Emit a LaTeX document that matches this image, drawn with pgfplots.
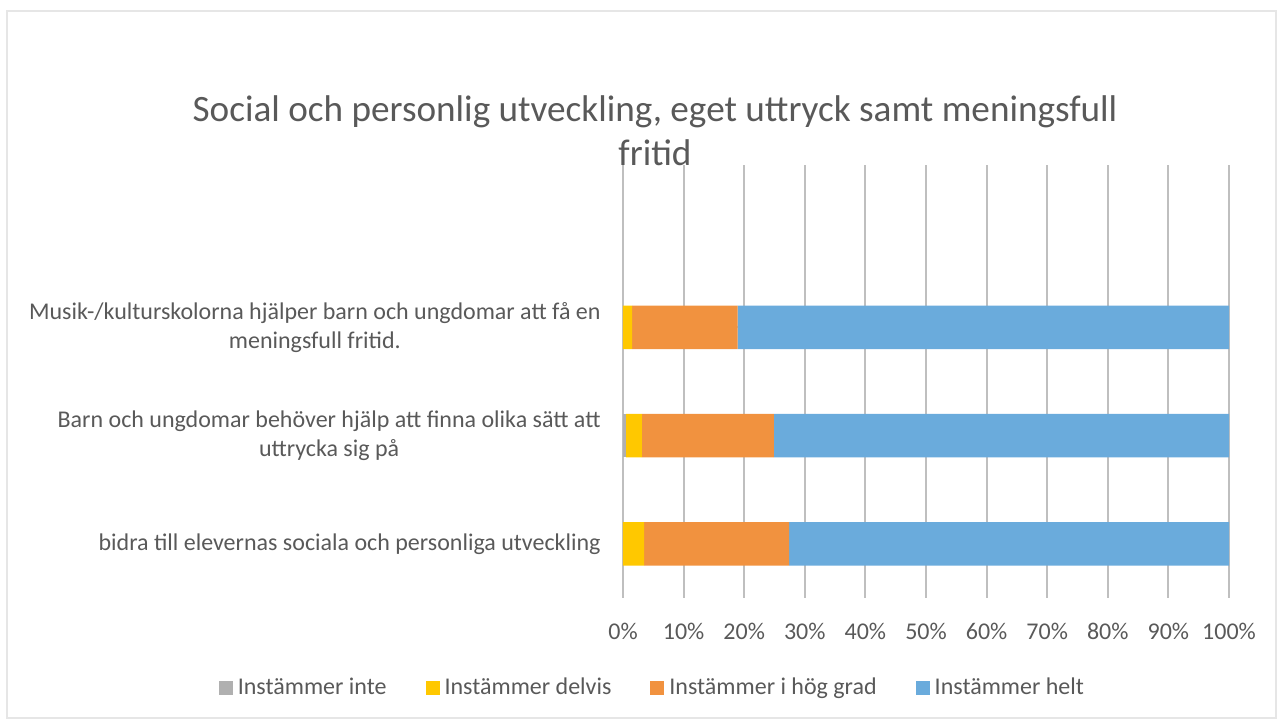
\documentclass[border=0pt]{standalone}
\usepackage{pgfplots}
\usepackage{pgfplotstable}
\pgfplotsset{compat=1.18}
\usepackage{fontspec}
\setmainfont{Carlito}
\definecolor{txt}{HTML}{595959}
\definecolor{cgray}{HTML}{B0B0B0}
\definecolor{cyellow}{HTML}{FFC800}
\definecolor{corange}{HTML}{F1923F}
\definecolor{cblue}{HTML}{6AABDC}
\definecolor{grid}{HTML}{E6E6E6}
\pgfplotstableread{
cat inte delvis hog helt
0 0 3.5 23.9 72.6
1 0.5 2.6 21.8 75.1
2 0 1.5 17.4 81.1
}\data
\begin{document}
\begin{tikzpicture}[font=\fontsize{12}{14.5}\selectfont, text=txt]
\useasboundingbox (-311.5pt,-64.5pt) rectangle (330.5pt,299pt);
\draw[grid, line width=0.8pt] (-308pt,-60pt) rectangle (326.5pt,293.5pt);
\begin{axis}[
  at={(0pt,0pt)}, anchor=south west,
  scale only axis, width=303pt, height=216.5pt,
  xbar stacked, bar width=21.8pt,
  xmin=0, xmax=100, ymin=-0.5, ymax=3.5,
  xtick={0,10,...,100},
  xticklabels={0\%,10\%,20\%,30\%,40\%,50\%,60\%,70\%,80\%,90\%,100\%},
  ytick={0,1,2},
  yticklabels={bidra till elevernas sociala och personliga utveckling,
    {Barn och ungdomar behöver hjälp att finna olika sätt att\\uttrycka sig på},
    {Musik-/kulturskolorna hjälper barn och ungdomar att få en\\meningsfull fritid.}},
  yticklabel style={align=center, anchor=east, inner sep=0pt, xshift=-11pt, text=txt, font=\fontsize{12}{14.5}\selectfont},
  xticklabel style={anchor=center, inner sep=0pt, yshift=-16.5pt, text=txt, font=\fontsize{12}{14.5}\selectfont},
  major tick length=0pt,
  axis line style={draw=none},
  xmajorgrids, grid style={grid, line width=1pt},
  legend columns=4,
  legend style={at={(0.051,-0.208)}, anchor=center, draw=none, fill=none,
    /tikz/every even column/.append style={column sep=17pt}, text=txt, font=\fontsize{12}{14.5}\selectfont},
  legend image code/.code={\fill[#1] (0pt,-3.5pt) rectangle (7pt,3.5pt);},
  legend style={nodes={inner xsep=2.5pt}},
]
\addplot[fill=cgray, draw=none] table[x=inte, y=cat] {\data};
\addplot[fill=cyellow, draw=none] table[x=delvis, y=cat] {\data};
\addplot[fill=corange, draw=none] table[x=hog, y=cat] {\data};
\addplot[fill=cblue, draw=none] table[x=helt, y=cat] {\data};
\legend{Instämmer inte, Instämmer delvis, Instämmer i hög grad, Instämmer helt}
\end{axis}
\node[align=center, text=txt, font=\fontsize{18.6}{22}\selectfont] at (16pt,233.5pt) {Social och personlig utveckling, eget uttryck samt meningsfull\\fritid};
\end{tikzpicture}
\end{document}
